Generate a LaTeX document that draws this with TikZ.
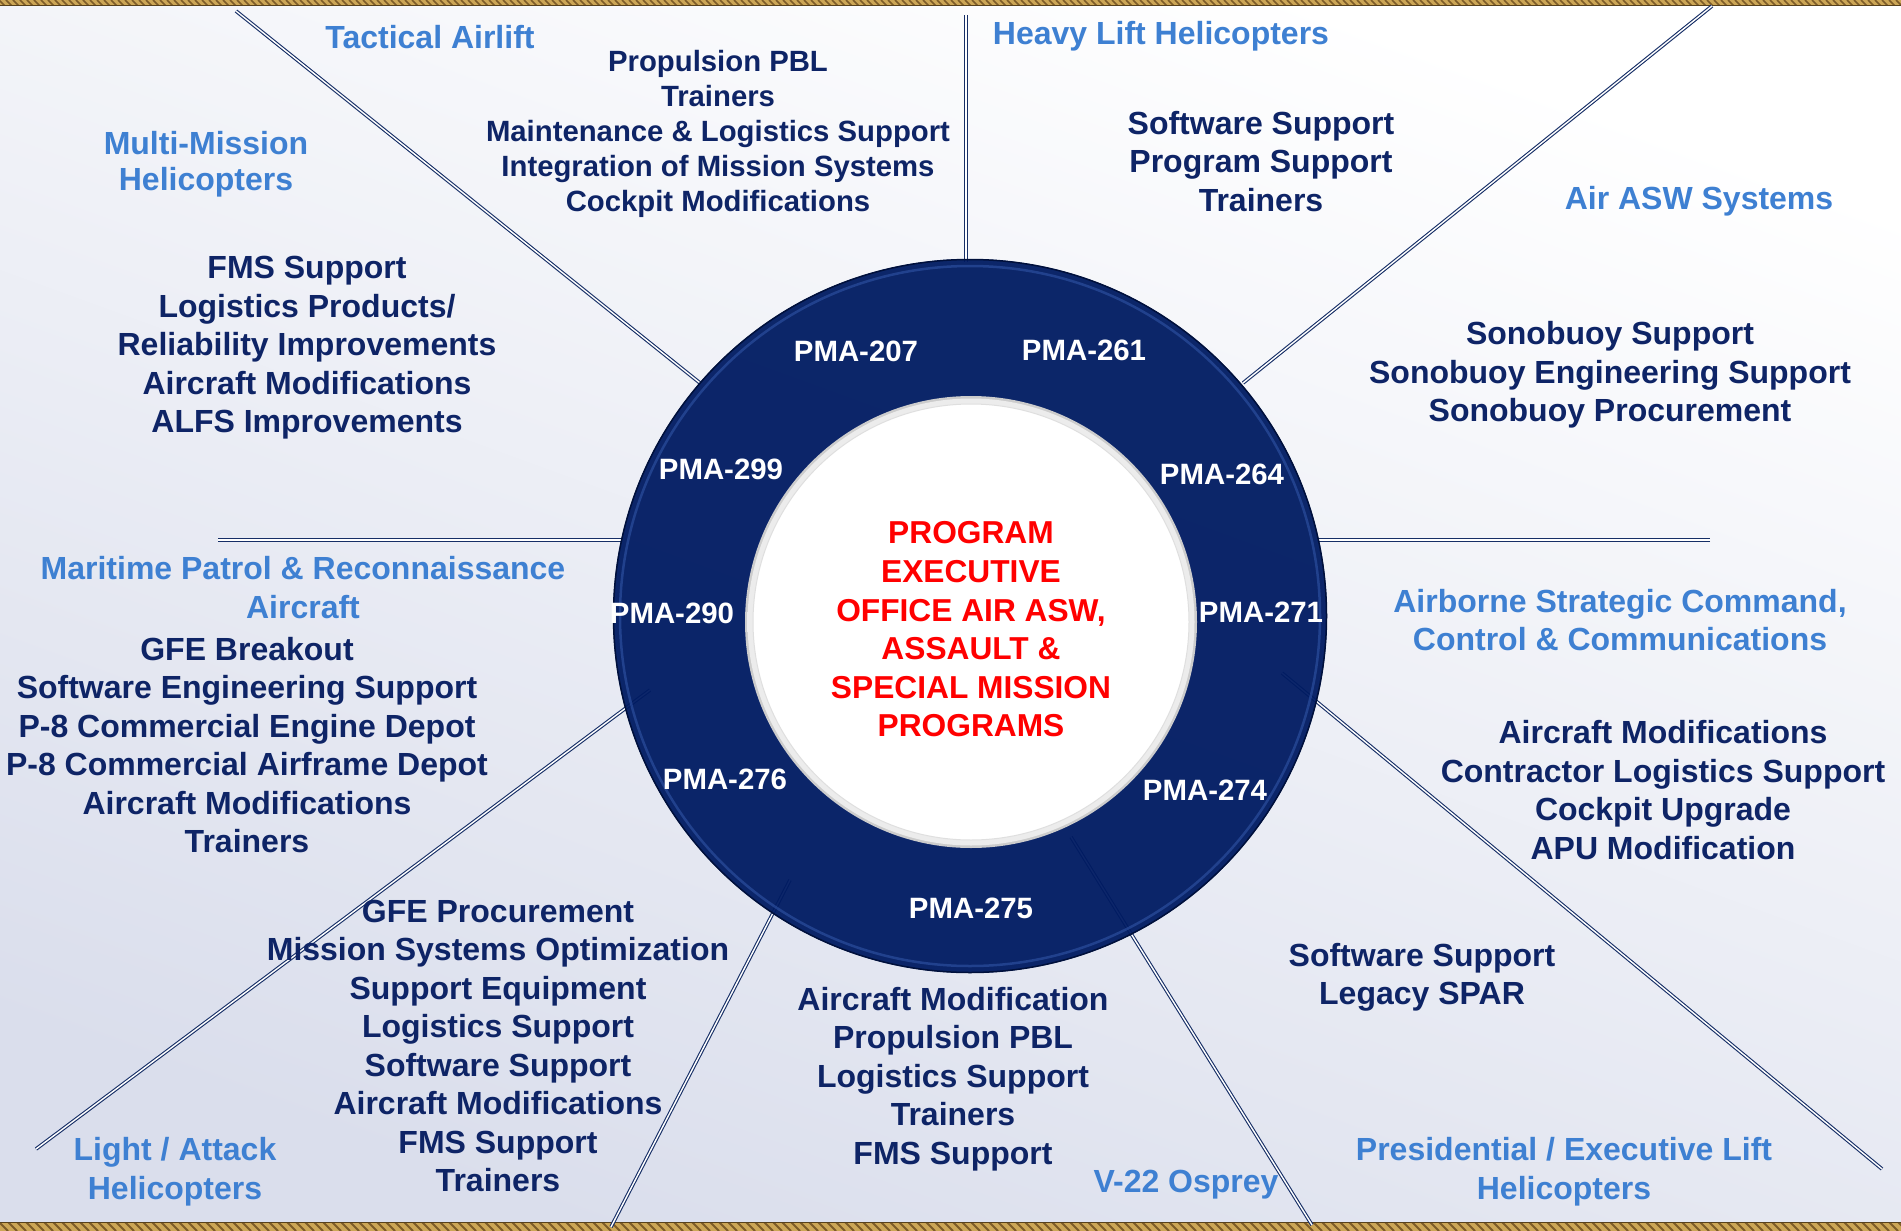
\documentclass[tikz,border=0pt]{standalone}
\usepackage{fontspec}
\setmainfont{Liberation Sans}
\usetikzlibrary{positioning}

\definecolor{itemnavy}{RGB}{14,36,102}
\definecolor{catblue}{RGB}{62,128,210}
\definecolor{ringnavy}{RGB}{0,27,98}
\definecolor{rimblue}{RGB}{48,84,165}
\definecolor{linenavy}{RGB}{22,46,102}
\definecolor{rope}{RGB}{204,166,86}
\definecolor{ropedark}{RGB}{125,92,40}
\definecolor{bgbottom}{RGB}{218,222,236}

\begin{document}
\begin{tikzpicture}[x=1pt,y=-1pt,
		item/.style={text=itemnavy,font=\bfseries\fontsize{32}{38.5}\selectfont,align=center,inner sep=0pt,yshift=-3pt},
		smallitem/.style={text=itemnavy,font=\bfseries\fontsize{29.3}{35.2}\selectfont,align=center,inner sep=0pt,yshift=-2pt},
		cat/.style={text=catblue,font=\bfseries\fontsize{32}{38.5}\selectfont,align=center,inner sep=0pt,yshift=-3pt},
		pma/.style={text=white,font=\bfseries\fontsize{29.4}{34}\selectfont,inner sep=0pt,yshift=-2pt},
		peo/.style={text=red,font=\bfseries\fontsize{31.7}{38.6}\selectfont,align=center,inner sep=0pt,yshift=-2pt},
		divider/.style={draw=linenavy,double=white,double distance=1.4pt,line width=1.1pt}]
	\useasboundingbox (0,0) rectangle (1901,1231);
	\shade[top color=white,middle color=white!60!bgbottom,bottom color=bgbottom,shading angle=-20] (0,0) rectangle (1901,1231);

	% gold rope along top and bottom edges
	\begin{scope}
		\clip (0,0) rectangle (1901,6);
		\fill[rope] (0,0) rectangle (1901,6);
		\foreach \x in {-8,-1,...,1905} \draw[ropedark,line width=1.6pt] (\x,0) -- ++(6,6);
		\draw[ropedark!70!black,line width=1.2pt] (0,5.5) -- (1901,5.5);
	\end{scope}
	\begin{scope}
		\clip (0,1222) rectangle (1901,1231);
		\fill[rope] (0,1222) rectangle (1901,1231);
		\foreach \x in {-10,-1,...,1905} \draw[ropedark,line width=1.8pt] (\x,1222) -- ++(9,9);
		\draw[ropedark!70!black,line width=1pt] (0,1222.5) -- (1901,1222.5);
	\end{scope}

	% dividers
	\coordinate (t1) at (236,11);		\coordinate (r1) at (700,383);
	\coordinate (t2) at (966,15);		\coordinate (r2) at (966,262);
	\coordinate (t3) at (1712,6);		\coordinate (r3) at (1243,383);
	\coordinate (t4) at (218,540);		\coordinate (r4) at (621,540);
	\coordinate (t5) at (1710,540);		\coordinate (r5) at (1319,540);
	\coordinate (t6) at (1882,1169);	\coordinate (r6) at (1282,673);
	\coordinate (t7) at (1312,1225);	\coordinate (r7) at (1071,837);
	\coordinate (t8) at (611,1227);		\coordinate (r8) at (790,880);
	\coordinate (t9) at (36,1149);		\coordinate (r9) at (650,690);
	\foreach \i in {1,...,9}
		\draw[divider] (t\i) -- (r\i);

	% ring of program offices
	\coordinate (hub) at (970,616);
	\fill[ringnavy,fill opacity=0.95] (hub) circle[radius=357pt];
	\draw[rimblue,line width=2.5pt,opacity=0.6] (hub) circle[radius=350pt];
	\draw[ringnavy!60!black,line width=1.5pt] (hub) circle[radius=356.5pt];
	\fill[gray!40] (971,622) circle[radius=226pt];
	\shade[inner color=white,outer color=gray!15] (971,622) circle[radius=223.5pt];
	\fill[white] (971,622) circle[radius=218pt];
	\draw[gray!25,line width=1pt] (971,622) circle[radius=218pt];

	\node[pma] (207) at (856,349) {PMA-207};
	\node[pma] (261) at (1084,348) {PMA-261};
	\node[pma] (299) at (721,467) {PMA-299};
	\node[pma] (264) at (1222,472) {PMA-264};
	\node[pma] (290) at (672,611) {PMA-290};
	\node[pma] (271) at (1261,610) {PMA-271};
	\node[pma] (276) at (725,777) {PMA-276};
	\node[pma] (274) at (1205,788) {PMA-274};
	\node[pma] (275) at (971,906) {PMA-275};

	\node[peo] (peo) at (971,627.5) {PROGRAM\\EXECUTIVE\\OFFICE AIR ASW,\\ASSAULT \&\\SPECIAL MISSION\\PROGRAMS};

	% program areas and their support
	\node[cat] (tac) at (430,34) {Tactical Airlift};
	\node[smallitem] (tacitems) at (718,132) {Propulsion PBL\\Trainers\\Maintenance \& Logistics Support\\Integration of Mission Systems\\Cockpit Modifications};
	\node[cat] (hlh) at (1161,33) {Heavy Lift Helicopters};
	\node[item] (hlhitems) at (1261,158.5) {Software Support\\Program Support\\Trainers};
	\node[cat] (asw) at (1699,198) {Air ASW Systems};
	\node[item] (aswitems) at (1610,372) {Sonobuoy Support\\Sonobuoy Engineering Support\\Sonobuoy Procurement};
	\node[cat,font=\bfseries\fontsize{32}{36}\selectfont] (mmh) at (206,161) {Multi-Mission\\Helicopters};
	\node[item] (mmhitems) at (307,345) {FMS Support\\Logistics Products/\\Reliability Improvements\\Aircraft Modifications\\ALFS Improvements};
	\node[cat] (mpr) at (303,584.5) {Maritime Patrol \& Reconnaissance\\Aircraft};
	\node[item] (mpritems) at (247,742) {GFE Breakout\\Software Engineering Support\\P-8 Commercial Engine Depot\\P-8 Commercial Airframe Depot\\Aircraft Modifications\\Trainers};
	\node[cat] (asc) at (1620,617) {Airborne Strategic Command,\\Control \& Communications};
	\node[item] (ascitems) at (1663,787) {Aircraft Modifications\\Contractor Logistics Support\\Cockpit Upgrade\\APU Modification};
	\node[item] (pelitems) at (1422,974.5) {Software Support\\Legacy SPAR};
	\node[cat] (pel) at (1564,1168.5) {Presidential / Executive Lift\\Helicopters};
	\node[cat] (v22) at (1186,1182) {V-22 Osprey};
	\node[item] (v22items) at (953,1076) {Aircraft Modification\\Propulsion PBL\\Logistics Support\\Trainers\\FMS Support};
	\node[item] (lahitems) at (498,1043) {GFE Procurement\\Mission Systems Optimization\\Support Equipment\\Logistics Support\\Software Support\\Aircraft Modifications\\FMS Support\\Trainers};
	\node[cat] (lah) at (175,1168.5) {Light / Attack\\Helicopters};
\end{tikzpicture}
\end{document}
